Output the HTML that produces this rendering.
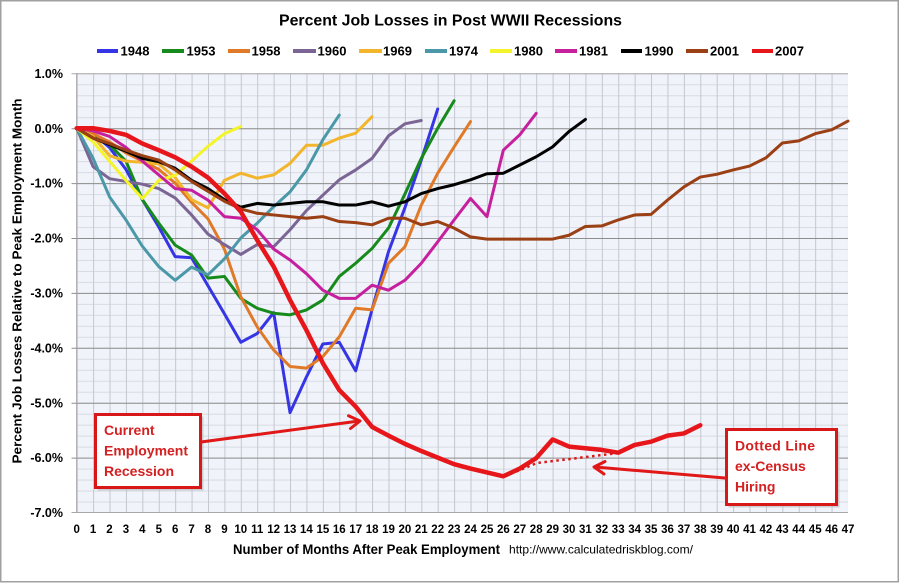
<!DOCTYPE html>
<html><head><meta charset="utf-8">
<style>
html,body{margin:0;padding:0;background:#fff;}
svg{display:block;}
text{font-family:"Liberation Sans",Arial,sans-serif;}
</style></head>
<body>
<svg width="900" height="583" viewBox="0 0 900 583" xmlns="http://www.w3.org/2000/svg">
<defs>
<pattern id="grid" patternUnits="userSpaceOnUse" x="76.7" y="73.3" width="16.41" height="10.98">
<rect width="16.41" height="10.98" fill="#f0f3f9"/>
<line x1="0" y1="0.5" x2="16.41" y2="0.5" stroke="#d7dbe3" stroke-width="1"/>
<line x1="0.5" y1="0" x2="0.5" y2="10.98" stroke="#c3c7cf" stroke-width="1"/>
</pattern>
</defs>
<rect x="0" y="0" width="900" height="583" fill="#fff"/>
<rect x="0.75" y="0.75" width="897.5" height="581" fill="none" stroke="#a0a0a0" stroke-width="1.5"/>

<!-- title -->
<text x="450.5" y="25.5" text-anchor="middle" font-size="16" font-weight="bold" textLength="343" lengthAdjust="spacingAndGlyphs">Percent Job Losses in Post WWII Recessions</text>

<!-- legend -->
<g stroke-width="4" stroke-linecap="butt">
<line x1="97" y1="51" x2="118" y2="51" stroke="#3535e6"/>
<line x1="162" y1="51" x2="184" y2="51" stroke="#178a1c"/>
<line x1="228" y1="51" x2="250" y2="51" stroke="#e07a28"/>
<line x1="293" y1="51" x2="316" y2="51" stroke="#7b6594"/>
<line x1="359" y1="51" x2="382" y2="51" stroke="#f2b52b"/>
<line x1="425" y1="51" x2="447" y2="51" stroke="#4a98a8"/>
<line x1="490" y1="51" x2="512" y2="51" stroke="#f4f42a"/>
<line x1="555" y1="51" x2="577" y2="51" stroke="#c6209e"/>
<line x1="621" y1="51" x2="642" y2="51" stroke="#000000"/>
<line x1="686" y1="51" x2="708" y2="51" stroke="#9b3f14"/>
<line x1="752" y1="51" x2="773" y2="51" stroke="#e6161b"/>
</g>
<g font-size="13" font-weight="bold" fill="#000">
<text x="120.5" y="55.5">1948</text>
<text x="186.5" y="55.5">1953</text>
<text x="251.5" y="55.5">1958</text>
<text x="317.5" y="55.5">1960</text>
<text x="383" y="55.5">1969</text>
<text x="449" y="55.5">1974</text>
<text x="514" y="55.5">1980</text>
<text x="579" y="55.5">1981</text>
<text x="644.5" y="55.5">1990</text>
<text x="710" y="55.5">2001</text>
<text x="775" y="55.5">2007</text>
</g>

<!-- plot area -->
<rect x="76.7" y="73.3" width="771.3" height="439.2" fill="url(#grid)"/>
<g stroke="#8e8e8e" stroke-width="1">
<line x1="71.5" y1="73.8" x2="848" y2="73.8" stroke="#a8a8a8"/>
<line x1="71.5" y1="128.7" x2="848" y2="128.7"/>
<line x1="71.5" y1="183.6" x2="848" y2="183.6"/>
<line x1="71.5" y1="238.5" x2="848" y2="238.5"/>
<line x1="71.5" y1="293.4" x2="848" y2="293.4"/>
<line x1="71.5" y1="348.3" x2="848" y2="348.3"/>
<line x1="71.5" y1="403.2" x2="848" y2="403.2"/>
<line x1="71.5" y1="458.1" x2="848" y2="458.1"/>
<line x1="71.5" y1="512.5" x2="848" y2="512.5" stroke="#a8a8a8"/>
<line x1="76.7" y1="73.3" x2="76.7" y2="512.5" stroke="#a0a0a0"/>
</g>

<!-- y labels -->
<g font-size="12.5" font-weight="bold" text-anchor="end" fill="#000">
<text x="63" y="78">1.0%</text>
<text x="63" y="132.8">0.0%</text>
<text x="63" y="187.7">-1.0%</text>
<text x="63" y="242.6">-2.0%</text>
<text x="63" y="297.5">-3.0%</text>
<text x="63" y="352.4">-4.0%</text>
<text x="63" y="407.3">-5.0%</text>
<text x="63" y="462.2">-6.0%</text>
<text x="63" y="517.1">-7.0%</text>
</g>

<!-- y title -->
<text transform="translate(21.5,281) rotate(-90)" text-anchor="middle" font-size="12.5" font-weight="bold" textLength="365" lengthAdjust="spacingAndGlyphs">Percent Job Losses Relative to Peak Employment Month</text>

<!-- x labels -->
<g font-size="11.5" font-weight="bold" text-anchor="middle" fill="#000">
<text x="76.7" y="533">0</text><text x="93.1" y="533">1</text><text x="109.5" y="533">2</text><text x="125.9" y="533">3</text><text x="142.3" y="533">4</text><text x="158.8" y="533">5</text><text x="175.2" y="533">6</text><text x="191.6" y="533">7</text><text x="208" y="533">8</text><text x="224.4" y="533">9</text>
<text x="240.8" y="533">10</text><text x="257.2" y="533">11</text><text x="273.6" y="533">12</text><text x="290" y="533">13</text><text x="306.4" y="533">14</text><text x="322.9" y="533">15</text><text x="339.3" y="533">16</text><text x="355.7" y="533">17</text><text x="372.1" y="533">18</text><text x="388.5" y="533">19</text>
<text x="404.9" y="533">20</text><text x="421.3" y="533">21</text><text x="437.7" y="533">22</text><text x="454.1" y="533">23</text><text x="470.5" y="533">24</text><text x="487" y="533">25</text><text x="503.4" y="533">26</text><text x="519.8" y="533">27</text><text x="536.2" y="533">28</text><text x="552.6" y="533">29</text>
<text x="569" y="533">30</text><text x="585.4" y="533">31</text><text x="601.8" y="533">32</text><text x="618.2" y="533">33</text><text x="634.6" y="533">34</text><text x="651" y="533">35</text><text x="667.5" y="533">36</text><text x="683.9" y="533">37</text><text x="700.3" y="533">38</text><text x="716.7" y="533">39</text>
<text x="733.1" y="533">40</text><text x="749.5" y="533">41</text><text x="765.9" y="533">42</text><text x="782.3" y="533">43</text><text x="798.7" y="533">44</text><text x="815.2" y="533">45</text><text x="831.6" y="533">46</text><text x="848" y="533">47</text>
</g>

<!-- x title -->
<text x="233" y="554" font-size="13.5" font-weight="bold" textLength="267" lengthAdjust="spacingAndGlyphs">Number of Months After Peak Employment</text>
<text x="509" y="553.5" font-size="12" textLength="184" lengthAdjust="spacingAndGlyphs">http://www.calculatedriskblog.com/</text>

<!-- series -->
<g transform="translate(76.7,128.2) scale(16.41,-54.9)" fill="none" stroke-linejoin="round" stroke-linecap="round">
<polyline vector-effect="non-scaling-stroke" stroke="#3535e6" stroke-width="3" points="0,0 1,-0.1 2,-0.35 3,-0.75 4,-1.3 5,-1.8 6,-2.34 7,-2.36 8,-2.87 9,-3.38 10,-3.9 11,-3.74 12,-3.36 13,-5.18 14,-4.53 15,-3.93 16,-3.9 17,-4.42 18,-3.3 19,-2.25 20,-1.45 21,-0.58 22,0.35"/>
<polyline vector-effect="non-scaling-stroke" stroke="#178a1c" stroke-width="3" points="0,0 1,-0.1 2,-0.3 3,-0.6 4,-1.3 5,-1.73 6,-2.13 7,-2.31 8,-2.73 9,-2.7 10,-3.1 11,-3.28 12,-3.37 13,-3.4 14,-3.31 15,-3.13 16,-2.7 17,-2.46 18,-2.19 19,-1.82 20,-1.2 21,-0.55 22,0 23,0.5"/>
<polyline vector-effect="non-scaling-stroke" stroke="#e07a28" stroke-width="3" points="0,0 1,-0.1 2,-0.25 3,-0.45 4,-0.6 5,-0.75 6,-1.0 7,-1.35 8,-1.65 9,-2.2 10,-3.07 11,-3.62 12,-4.04 13,-4.34 14,-4.37 15,-4.16 16,-3.8 17,-3.28 18,-3.31 19,-2.46 20,-2.16 21,-1.4 22,-0.82 23,-0.34 24,0.12"/>
<polyline vector-effect="non-scaling-stroke" stroke="#7b6594" stroke-width="3" points="0,0 1,-0.7 2,-0.92 3,-0.97 4,-1.02 5,-1.1 6,-1.27 7,-1.58 8,-1.93 9,-2.12 10,-2.3 11,-2.12 12,-2.16 13,-1.85 14,-1.5 15,-1.22 16,-0.94 17,-0.76 18,-0.55 19,-0.14 20,0.08 21,0.14"/>
<polyline vector-effect="non-scaling-stroke" stroke="#f2b52b" stroke-width="3" points="0,0 1,-0.15 2,-0.5 3,-0.6 4,-0.62 5,-0.65 6,-0.9 7,-1.3 8,-1.45 9,-0.95 10,-0.82 11,-0.91 12,-0.85 13,-0.64 14,-0.31 15,-0.31 16,-0.18 17,-0.09 18,0.21"/>
<polyline vector-effect="non-scaling-stroke" stroke="#4a98a8" stroke-width="3" points="0,0 1,-0.55 2,-1.25 3,-1.67 4,-2.15 5,-2.52 6,-2.77 7,-2.53 8,-2.67 9,-2.38 10,-2.0 11,-1.73 12,-1.43 13,-1.16 14,-0.76 15,-0.21 16,0.24"/>
<polyline vector-effect="non-scaling-stroke" stroke="#f4f42a" stroke-width="3" points="0,0 1,-0.25 2,-0.6 3,-0.95 4,-1.28 5,-0.95 6,-0.86 7,-0.6 8,-0.33 9,-0.1 10,0.03"/>
<polyline vector-effect="non-scaling-stroke" stroke="#c6209e" stroke-width="3" points="0,0 1,-0.05 2,-0.15 3,-0.35 4,-0.6 5,-0.85 6,-1.1 7,-1.13 8,-1.31 9,-1.61 10,-1.64 11,-1.85 12,-2.2 13,-2.4 14,-2.65 15,-2.95 16,-3.1 17,-3.1 18,-2.86 19,-2.95 20,-2.77 21,-2.46 22,-2.07 23,-1.67 24,-1.28 25,-1.61 26,-0.4 27,-0.12 28,0.27"/>
<polyline vector-effect="non-scaling-stroke" stroke="#000000" stroke-width="3" points="0,0 1,-0.18 2,-0.3 3,-0.42 4,-0.55 5,-0.61 6,-0.73 7,-0.95 8,-1.1 9,-1.3 10,-1.44 11,-1.37 12,-1.4 13,-1.37 14,-1.34 15,-1.34 16,-1.4 17,-1.4 18,-1.34 19,-1.42 20,-1.34 21,-1.19 22,-1.1 23,-1.03 24,-0.94 25,-0.83 26,-0.82 27,-0.67 28,-0.52 29,-0.34 30,-0.06 31,0.16"/>
<polyline vector-effect="non-scaling-stroke" stroke="#9b3f14" stroke-width="3" points="0,0 1,-0.18 2,-0.28 3,-0.4 4,-0.5 5,-0.58 6,-0.76 7,-0.97 8,-1.15 9,-1.33 10,-1.47 11,-1.55 12,-1.58 13,-1.61 14,-1.64 15,-1.61 16,-1.7 17,-1.72 18,-1.76 19,-1.64 20,-1.64 21,-1.76 22,-1.7 23,-1.82 24,-1.98 25,-2.02 26,-2.02 27,-2.02 28,-2.02 29,-2.02 30,-1.95 31,-1.79 32,-1.78 33,-1.67 34,-1.58 35,-1.57 36,-1.31 37,-1.07 38,-0.89 39,-0.84 40,-0.76 41,-0.69 42,-0.54 43,-0.27 44,-0.23 45,-0.1 46,-0.03 47,0.13"/>
<polyline vector-effect="non-scaling-stroke" stroke="#e6161b" stroke-width="4.5" points="0,0 1,0 2,-0.05 3,-0.12 4,-0.28 5,-0.4 6,-0.53 7,-0.7 8,-0.9 9,-1.19 10,-1.52 11,-2.04 12,-2.52 13,-3.13 14,-3.68 15,-4.28 16,-4.77 17,-5.07 18,-5.44 19,-5.6 20,-5.75 21,-5.88 22,-6.0 23,-6.12 24,-6.2 25,-6.27 26,-6.34 27,-6.2 28,-6.01 29,-5.67 30,-5.8 31,-5.83 32,-5.86 33,-5.91 34,-5.77 35,-5.71 36,-5.6 37,-5.56 38,-5.41"/>
</g>
<!-- dotted ex-census line -->
<polyline fill="none" stroke="#d81818" stroke-width="2.5" stroke-dasharray="2.5 3.5" points="505,476 520,470 537,463 553,461 570,459 586,457 602,455 618,453"/>

<!-- annotation 1 -->
<rect x="97.5" y="416.5" width="106" height="74" fill="#b8b8b8" opacity="0.6"/>
<rect x="95.5" y="414.5" width="105" height="73" fill="#fff" stroke="#d81818" stroke-width="3"/>
<g font-size="14" font-weight="bold" fill="#d42020">
<text x="104" y="435">Current</text>
<text x="104" y="455.5">Employment</text>
<text x="104" y="476">Recession</text>
</g>
<g stroke="#e01818" stroke-width="3" fill="none" stroke-linecap="round" stroke-linejoin="round">
<line x1="201" y1="442" x2="359" y2="421"/>
<polyline points="348.5,415.8 360,421 350.5,428.5"/>
</g>

<!-- annotation 2 -->
<rect x="728.5" y="431.5" width="111" height="76" fill="#b8b8b8" opacity="0.6"/>
<rect x="726.5" y="429.5" width="110" height="75" fill="#fff" stroke="#d81818" stroke-width="3"/>
<g font-size="14" font-weight="bold" fill="#d42020">
<text x="735" y="450.5" textLength="80" lengthAdjust="spacing">Dotted Line</text>
<text x="735" y="471">ex-Census</text>
<text x="735" y="491.5">Hiring</text>
</g>
<g stroke="#e01818" stroke-width="3" fill="none" stroke-linecap="round" stroke-linejoin="round">
<line x1="725" y1="478" x2="595" y2="467"/>
<polyline points="605,461.5 594,467 604,474"/>
</g>
</svg>
</body></html>
